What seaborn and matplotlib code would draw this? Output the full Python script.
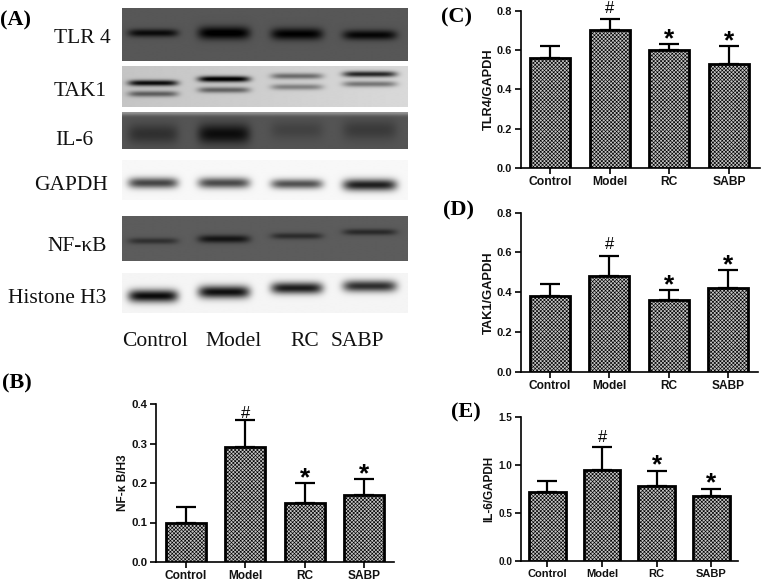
import numpy as np
import pandas as pd
import matplotlib
matplotlib.use('Agg')
import matplotlib.pyplot as plt
import seaborn as sns

# --- values ---
groups = ['Control', 'Model', 'RC', 'SABP']

nfkb_mean = [0.10, 0.29, 0.15, 0.17]
nfkb_top = [0.14, 0.36, 0.20, 0.21]
tlr4_mean = [0.56, 0.70, 0.60, 0.53]
tlr4_top = [0.62, 0.76, 0.63, 0.62]
tak1_mean = [0.38, 0.48, 0.36, 0.42]
tak1_top = [0.44, 0.58, 0.41, 0.51]
il6_mean = [0.72, 0.95, 0.78, 0.68]
il6_top = [0.83, 1.18, 0.94, 0.75]

marks = ['', '#', '*', '*']

# band darkness per lane, read from the blot strips
blot_names = ['TLR 4', 'TAK1', 'IL-6', 'GAPDH', 'NF-κB', 'Histone H3']
tlr4_bands = [0.30, 0.36, 0.34, 0.32]
tak1_upper = [0.75, 0.85, 0.40, 0.70]
tak1_lower = [0.42, 0.42, 0.32, 0.38]
il6_bands = [0.14, 0.28, 0.07, 0.10]
gapdh_bands = [0.70, 0.68, 0.65, 0.85]
nfkb_bands = [0.17, 0.28, 0.19, 0.20]
h3_bands = [0.92, 0.90, 0.85, 0.78]

W, H = 766, 582
sns.set_theme(style='white')
plt.rcParams['font.family'] = ['Liberation Sans', 'DejaVu Sans']
plt.rcParams['hatch.linewidth'] = 0.45

fig = plt.figure(figsize=(W / 100, H / 100), dpi=100)
fig.patch.set_facecolor('white')

def px_axes(x0, y0, x1, y1):
    # box given in image pixels, y going down
    return fig.add_axes([x0 / W, 1 - y1 / H, (x1 - x0) / W, (y1 - y0) / H])

def bar_panel(box, mean, top, ymax, yticks, ylabel, pad, xlim, offs, sizes):
    label_size, xtick_size, ytick_size = sizes
    ax = px_axes(*box)
    df = pd.DataFrame({'group': groups, 'value': mean})
    sns.barplot(data=df, x='group', y='value', color='#c6c6c6', saturation=1,
                width=0.67, edgecolor='black', linewidth=2.0, hatch='xxxxxxxxx',
                ax=ax, zorder=3)
    for i, g in enumerate(groups):
        ax.errorbar(i, mean[i], yerr=[[0], [top[i] - mean[i]]], color='black',
                    elinewidth=1.6, capsize=7.5, capthick=1.6, zorder=2)
        if marks[i] == '#':
            ax.annotate('#', (i, top[i]), xytext=(0, offs[0]), textcoords='offset points',
                        ha='center', va='bottom', fontsize=12, color='black')
        elif marks[i] == '*':
            ax.annotate('*', (i, top[i]), xytext=(0, offs[1]), textcoords='offset points',
                        ha='center', va='bottom', fontsize=19, fontweight='bold', color='black')
    ax.set_xlim(*xlim)
    ax.set_ylim(0, ymax)
    ax.set_yticks(yticks)
    ax.set_yticklabels(['%.1f' % t for t in yticks])
    ax.set_xlabel('')
    ax.set_ylabel(ylabel, fontsize=label_size, fontweight='bold', color='#111111', labelpad=pad)
    ax.tick_params(axis='both', length=4, width=1.2, direction='out', color='black',
                   left=True, bottom=True, pad=2, labelcolor='#111111')
    for lab in ax.get_xticklabels():
        lab.set_fontsize(xtick_size)
        lab.set_fontweight('bold')
    for lab in ax.get_yticklabels():
        lab.set_fontsize(ytick_size)
        lab.set_fontweight('bold')
    sns.despine(ax=ax)
    for side in ['left', 'bottom']:
        ax.spines[side].set_color('black')
        ax.spines[side].set_linewidth(1.2)
    ax.patch.set_alpha(0)
    return ax

bar_panel((156, 404, 394, 562), nfkb_mean, nfkb_top, 0.4, [0, 0.1, 0.2, 0.3, 0.4],
          'NF-κ B/H3', 1.5, (-0.5, 3.5), (-1, -5), (8.6, 8.6, 8.2))
bar_panel((520.7, 10.7, 760, 168), tlr4_mean, tlr4_top, 0.8, [0, 0.2, 0.4, 0.6, 0.8],
          'TLR4/GAPDH', 1.5, (-0.49, 3.52), (1.5, -5), (9.2, 8.7, 7.9))
bar_panel((520.7, 212.7, 758, 371.7), tak1_mean, tak1_top, 0.8, [0, 0.2, 0.4, 0.6, 0.8],
          'TAK1/GAPDH', 1.5, (-0.49, 3.5), (3, -5), (9.3, 8.6, 8.0))
ax_e = bar_panel((520.7, 416.7, 738, 561), il6_mean, il6_top, 1.5, [0, 0.5, 1.0, 1.5],
                 'IL-6/GAPDH', 2, (-0.49, 3.49), (2, -5), (8.5, 8.0, 7.2))
ax_e.tick_params(axis='x', pad=1.5)

# --- blot strips, drawn as images on an overlay in pixel coordinates ---
over = fig.add_axes([0, 0, 1, 1])
over.patch.set_alpha(0)
over.axis('off')

lane_x = [153, 224, 297, 370]
lane_w = [25, 26, 26, 27]

def strip(y0, y1, bg, bands, fade=0.0, slope=0.0):
    # bands: list of (strengths, centre y per lane, half height per lane)
    xs = np.arange(122, 408.5, 0.5)
    ys = np.arange(y0, y1 + 0.5, 0.5)
    xx, yy = np.meshgrid(xs, ys)
    img = np.full(xx.shape, float(bg)) + slope * (xx - 265) / 143
    if fade:
        img += fade * np.exp(-((yy - y0) / 3.0) ** 2)
    for strengths, cy, hh in bands:
        for k in range(4):
            prof = np.exp(-((xx - lane_x[k]) / lane_w[k]) ** 6)
            img -= strengths[k] * prof * np.exp(-((yy - cy[k]) / hh[k]) ** 2)
    over.imshow(np.clip(img, 0, 1), extent=(122, 408, y1, y0), cmap='gray', vmin=0, vmax=1,
                aspect='auto', interpolation='bilinear', zorder=1)

strip(8, 61, 0.34, [(tlr4_bands, [33, 33, 34, 35], [4.0, 6.5, 6.0, 5.0])])
strip(66, 107, 0.81, [(tak1_upper, [83, 79, 76, 74], [3, 3, 3, 3]),
                      (tak1_lower, [94, 90, 87, 84], [3, 3, 3, 3])], slope=0.04)
strip(112, 149, 0.33, [(il6_bands, [134, 134, 130, 130], [10, 10, 9, 10])], fade=0.25)
strip(160, 200, 0.97, [(gapdh_bands, [183, 183, 184, 185], [5.5, 5.5, 5, 6])])
strip(216, 261, 0.36, [(nfkb_bands, [241, 239, 236, 232], [3.2, 4, 3.2, 3.2])])
strip(273, 313, 0.96, [(h3_bands, [296, 292, 288, 286], [6.5, 6.5, 6, 6])])

over.set_xlim(0, W)
over.set_ylim(H, 0)

serif = ['Liberation Serif', 'DejaVu Serif']
blot_x = [54, 54, 55, 34, 47, 8]
blot_y = [38.5, 91.5, 140.5, 185.5, 246.5, 298.5]
for name, x, y in zip(blot_names, blot_x, blot_y):
    over.text(x, y, name, family=serif, fontsize=15.5, color='#111111', ha='left', va='center')

lane_label_x = [122, 205, 290, 331]
for name, x in zip(groups, lane_label_x):
    over.text(x, 342, name, family=serif, fontsize=15.5, color='#111111', ha='left', va='center')

panel_x = [0, 2, 441, 443, 451]
panel_y = [20, 383, 17, 210, 412]
for name, x, y in zip(['(A)', '(B)', '(C)', '(D)', '(E)'], panel_x, panel_y):
    over.text(x, y, name, family=serif, fontsize=16, fontweight='bold', color='black',
              ha='left', va='center')

fig.savefig('out.png', dpi=100, facecolor='white')
